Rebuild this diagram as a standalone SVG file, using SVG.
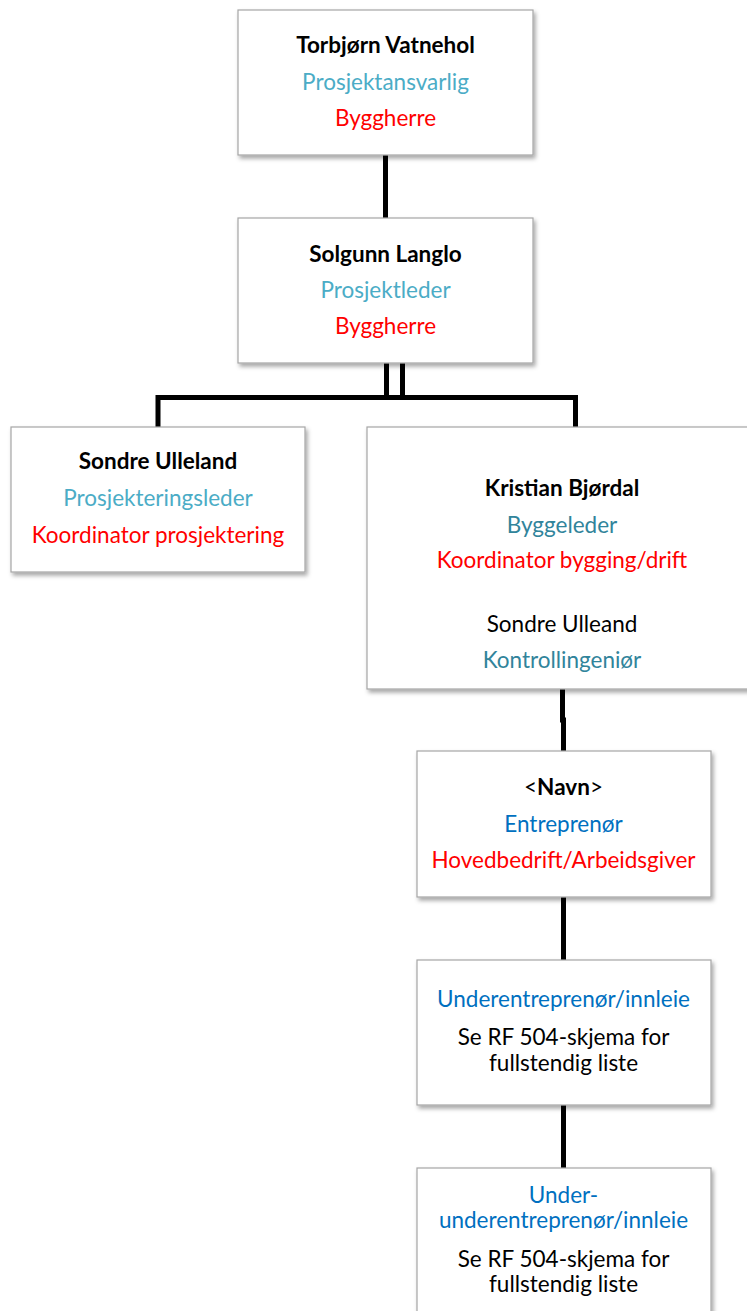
<svg xmlns="http://www.w3.org/2000/svg" width="747" height="1311" viewBox="0 0 747 1311">
<defs>
<filter id="sh" x="-10%" y="-10%" width="120%" height="130%">
<feDropShadow dx="2" dy="3" stdDeviation="2" flood-color="#000" flood-opacity="0.35"/>
</filter>
<style>
.box{fill:#fff;stroke:#a6a6a6;stroke-width:1.2;filter:url(#sh)}
.ln{stroke:#000;stroke-width:5;fill:none}
text{font-family:Lato,"Open Sans","Liberation Sans",sans-serif;font-size:22.5px;text-anchor:middle}
.b{font-weight:bold;fill:#000}
.k{fill:#000}
.c{fill:#4bacc6}
.t{fill:#31849b}
.bl{fill:#0070c0}
.r{fill:#ff0000}
</style>
</defs>
<g id="connectors">
<line class="ln" x1="385.5" y1="155" x2="385.5" y2="218"/>
<line class="ln" x1="386.5" y1="363" x2="386.5" y2="400"/>
<line class="ln" x1="402.5" y1="363" x2="402.5" y2="400"/>
<polyline class="ln" points="158,427 158,397.5 575.5,397.5 575.5,427"/>
<polyline class="ln" points="562.5,689 562.5,720 563.5,720 563.5,751"/>
<line class="ln" x1="563.5" y1="897" x2="563.5" y2="960"/>
<line class="ln" x1="563.5" y1="1105" x2="563.5" y2="1168"/>
</g>
<g id="torbjorn">
<rect class="box" x="238" y="10" width="295" height="145"/>
<text x="385.5" y="53" class="b">Torbjørn Vatnehol</text>
<text x="385.5" y="90" class="c">Prosjektansvarlig</text>
<text x="385.5" y="126" class="r">Byggherre</text>
</g>
<g id="solgunn">
<rect class="box" x="238" y="218" width="295" height="145"/>
<text x="385.5" y="262" class="b">Solgunn Langlo</text>
<text x="385.5" y="298" class="c">Prosjektleder</text>
<text x="385.5" y="334" class="r">Byggherre</text>
</g>
<g id="sondre">
<rect class="box" x="11" y="427" width="294" height="145"/>
<text x="158" y="469" class="b">Sondre Ulleland</text>
<text x="158" y="506" class="c">Prosjekteringsleder</text>
<text x="158" y="543" class="r">Koordinator prosjektering</text>
</g>
<g id="kristian">
<rect class="box" x="367" y="427" width="392" height="262"/>
<text x="562" y="496" class="b">Kristian Bjørdal</text>
<text x="562" y="533" class="t">Byggeleder</text>
<text x="562" y="568" class="r">Koordinator bygging/drift</text>
<text x="562" y="632" class="k">Sondre Ulleand</text>
<text x="562" y="668" class="t">Kontrollingeniør</text>
</g>
<g id="navn">
<rect class="box" x="417" y="751" width="294" height="146"/>
<text x="563.5" y="795" class="k">&lt;<tspan font-weight="bold">Navn</tspan>&gt;</text>
<text x="563.5" y="832" class="bl">Entreprenør</text>
<text x="563.5" y="868" class="r">Hovedbedrift/Arbeidsgiver</text>
</g>
<g id="under">
<rect class="box" x="417" y="960" width="294" height="145"/>
<text x="563.5" y="1007" class="bl">Underentreprenør/innleie</text>
<text x="563.5" y="1045" class="k">Se RF 504-skjema for</text>
<text x="563.5" y="1071" class="k">fullstendig liste</text>
</g>
<g id="underunder">
<rect class="box" x="417" y="1168" width="294" height="160"/>
<text x="563.5" y="1203" class="bl">Under-</text>
<text x="563.5" y="1228" class="bl">underentreprenør/innleie</text>
<text x="563.5" y="1267" class="k">Se RF 504-skjema for</text>
<text x="563.5" y="1292" class="k">fullstendig liste</text>
</g>
</svg>
